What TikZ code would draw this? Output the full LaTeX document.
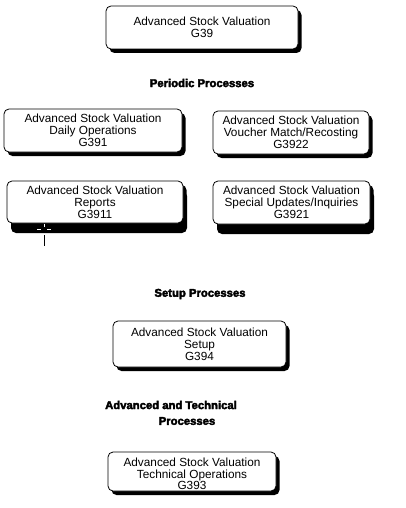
\documentclass[tikz,border=0pt]{standalone}
\usepackage{fontspec}
\setmainfont{Liberation Sans}
\newfontfamily\headfont[FakeBold=3.2]{Liberation Sans Bold}
\usetikzlibrary{shadows}
\begin{document}
\begin{tikzpicture}[x=1pt,y=-1pt,
  menubox/.style={draw=black, line width=0.8pt, rounded corners=5pt, fill=white,
    inner sep=0pt, align=center, font=\fontsize{11.8}{12}\selectfont,
    drop shadow={shadow xshift=3.5pt, shadow yshift=-4pt, fill=black, opacity=1}},
  deepbox/.style={menubox,
    drop shadow={shadow xshift=4pt, shadow yshift=-10pt, fill=black, opacity=1}},
  heading/.style={inner sep=0pt, font=\headfont\fontsize{11.3}{12}\selectfont}]
\useasboundingbox (0,0) rectangle (405,508);
\fill[white] (0,0) rectangle (405,508);

\node[menubox, minimum width=192pt, minimum height=43pt] (top) at (202,27.5)
  {Advanced Stock Valuation\\G39};

\node[heading] (hper) at (202,83) {Periodic Processes};

\node[menubox, minimum width=178pt, minimum height=43pt] (daily) at (93,130.5)
  {Advanced Stock Valuation\\Daily Operations\\G391};
\node[menubox, minimum width=156pt, minimum height=43pt] (voucher) at (291,132.5)
  {Advanced Stock Valuation\\Voucher Match/Recosting\\G3922};

\node[deepbox, minimum width=176pt, minimum height=42pt] (reports) at (95,202)
  {\raisebox{-2pt}[\height][\depth]{\begin{tabular}{@{}c@{}}Advanced Stock Valuation\\Reports\\G3911\end{tabular}}};
\node[deepbox, minimum width=157pt, minimum height=43pt] (special) at (291.5,202.5)
  {Advanced Stock Valuation\\Special Updates/Inquiries\\G3921};

% cursor crosshair
\draw[white, line width=0.8pt] (37,229) -- (41,229) (47,229) -- (51,229)
  (44,224) -- (44,227);
\draw[black, line width=0.8pt] (44,235) -- (44,246);

\node[heading] (hsetup) at (200,294) {Setup Processes};

\node[menubox, minimum width=173pt, minimum height=46pt] (setup) at (199.5,344)
  {Advanced Stock Valuation\\Setup\\G394};

\node[heading] (hadv1) at (171,405) {Advanced and Technical};
\node[heading] (hadv2) at (187,421) {Processes};

\node[menubox, minimum width=168pt, minimum height=39pt] (tech) at (192,471.5)
  {\raisebox{-4pt}[\height][\depth]{\begin{tabular}{@{}c@{}}Advanced Stock Valuation\\[-1pt]Technical Operations\\[-1pt]G393\end{tabular}}};
\end{tikzpicture}
\end{document}
